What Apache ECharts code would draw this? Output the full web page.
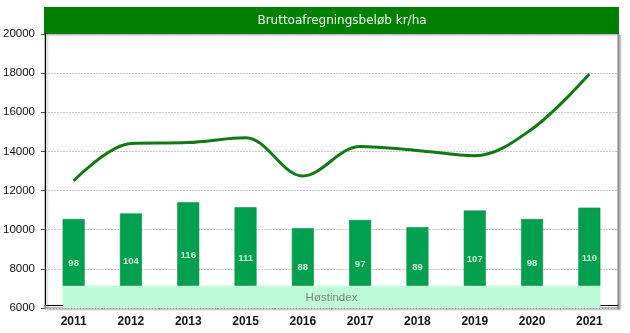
<!DOCTYPE html>
<html>
<head>
<meta charset="utf-8">
<script src="https://cdn.jsdelivr.net/npm/echarts@6/dist/echarts.min.js"></script>
<style>html,body{margin:0;padding:0;background:#fff}#c{width:630px;height:333px}</style>
</head>
<body>
<div id="c"></div>
<script>
var titleText = 'Bruttoafregningsbeløb kr/ha';
var categories = ['2011','2012','2013','2015','2016','2017','2018','2019','2020','2021'];
var amountPerHa = [12500,14400,14450,14700,12750,14250,14050,13780,15150,17950];
var barTops = [10550,10830,11400,11150,10080,10500,10130,10980,10550,11130];
var harvestIndex = [98,104,116,111,88,97,89,107,98,110];
var bandLabel = 'Høstindex';
var bandBottom = 6000;
var bandTop = 7140;
var yTicks = {min: 6000, max: 20000, interval: 2000};

var chart = echarts.init(document.getElementById('c'), null, {renderer: 'canvas'});
var barWidthFrac = 0.384;

var option = {
  animation: false,
  backgroundColor: '#fff',
  grid: {left: 45, right: 12, top: 34, bottom: 25, show: true, backgroundColor: '#fff',
    borderColor: '#7a7a7a', borderWidth: 1,
    shadowColor: 'rgba(0,0,0,0.35)', shadowBlur: 2, shadowOffsetX: 2, shadowOffsetY: 1},
  graphic: [{
    type: 'group', z: 100, children: [
      {type: 'rect', shape: {x: 44, y: 7, width: 575, height: 27}, style: {fill: '#008000'}},
      {type: 'text', x: 342, y: 20.5, style: {text: titleText, fill: '#f2fff2', font: '12px "DejaVu Sans"', align: 'center', verticalAlign: 'middle'}}
    ]
  }],
  xAxis: {
    type: 'category', data: categories, boundaryGap: true,
    axisLine: {lineStyle: {color: '#000', width: 1}},
    axisTick: {show: true, length: 4, lineStyle: {color: '#888'}},
    axisLabel: {color: '#111', fontSize: 12, fontFamily: 'Liberation Sans', fontWeight: 'bold', margin: 8}
  },
  yAxis: [{
    type: 'value', min: yTicks.min, max: yTicks.max, interval: yTicks.interval,
    axisLine: {show: true, lineStyle: {color: '#000', width: 1}},
    axisTick: {show: true, length: 4, lineStyle: {color: '#555'}},
    axisLabel: {color: '#111', fontSize: 11.5, fontFamily: 'Liberation Sans', margin: 10,
      formatter: function (v) { return String(v); }},
    splitLine: {lineStyle: {color: '#c8c8c8', type: [2, 1]}}
  }, {
    type: 'value', min: -6, max: 634, show: false, splitLine: {show: false}
  }],
  series: [{
    type: 'custom', name: 'band', z: 1,
    renderItem: function (params, api) {
      var first = api.coord([0, bandTop]);
      var last = api.coord([categories.length - 1, bandBottom]);
      var bw = api.size([1, 0])[0] * barWidthFrac;
      var x0 = first[0] - bw / 2, x1 = last[0] + bw / 2;
      return {type: 'group', children: [
        {type: 'rect', shape: {x: x0, y: first[1], width: x1 - x0, height: last[1] - first[1]}, style: {fill: '#bdfcd6'}},
        {type: 'text', x: (x0 + x1) / 2, y: (first[1] + last[1]) / 2 + 1, style: {text: bandLabel, fill: '#7a8580', font: '11.5px "Liberation Sans"', align: 'center', verticalAlign: 'middle'}}
      ]};
    },
    data: [[0, bandTop]],
    silent: true
  }, {
    type: 'bar', stack: 's', barWidth: (barWidthFrac * 100) + '%', z: 2,
    itemStyle: {color: 'rgba(0,0,0,0)'},
    data: categories.map(function () { return bandTop; }),
    silent: true
  }, {
    type: 'bar', stack: 's', z: 2,
    itemStyle: {color: '#00a04e', borderColor: '#0a8f45', borderWidth: 0.6},
    data: barTops.map(function (v) { return v - bandTop; })
  }, {
    type: 'scatter', yAxisIndex: 1, symbolSize: 0, z: 5,
    label: {show: true, position: 'inside', color: '#fff', fontSize: 9.5, fontWeight: 'bold', fontFamily: 'Liberation Sans', formatter: function (p) { return p.value; }},
    data: harvestIndex
  }, {
    type: 'line', smooth: 0.35, symbol: 'none', z: 6,
    lineStyle: {color: '#0f7a12', width: 3},
    data: amountPerHa
  }]
};
chart.setOption(option);
</script>
</body>
</html>
